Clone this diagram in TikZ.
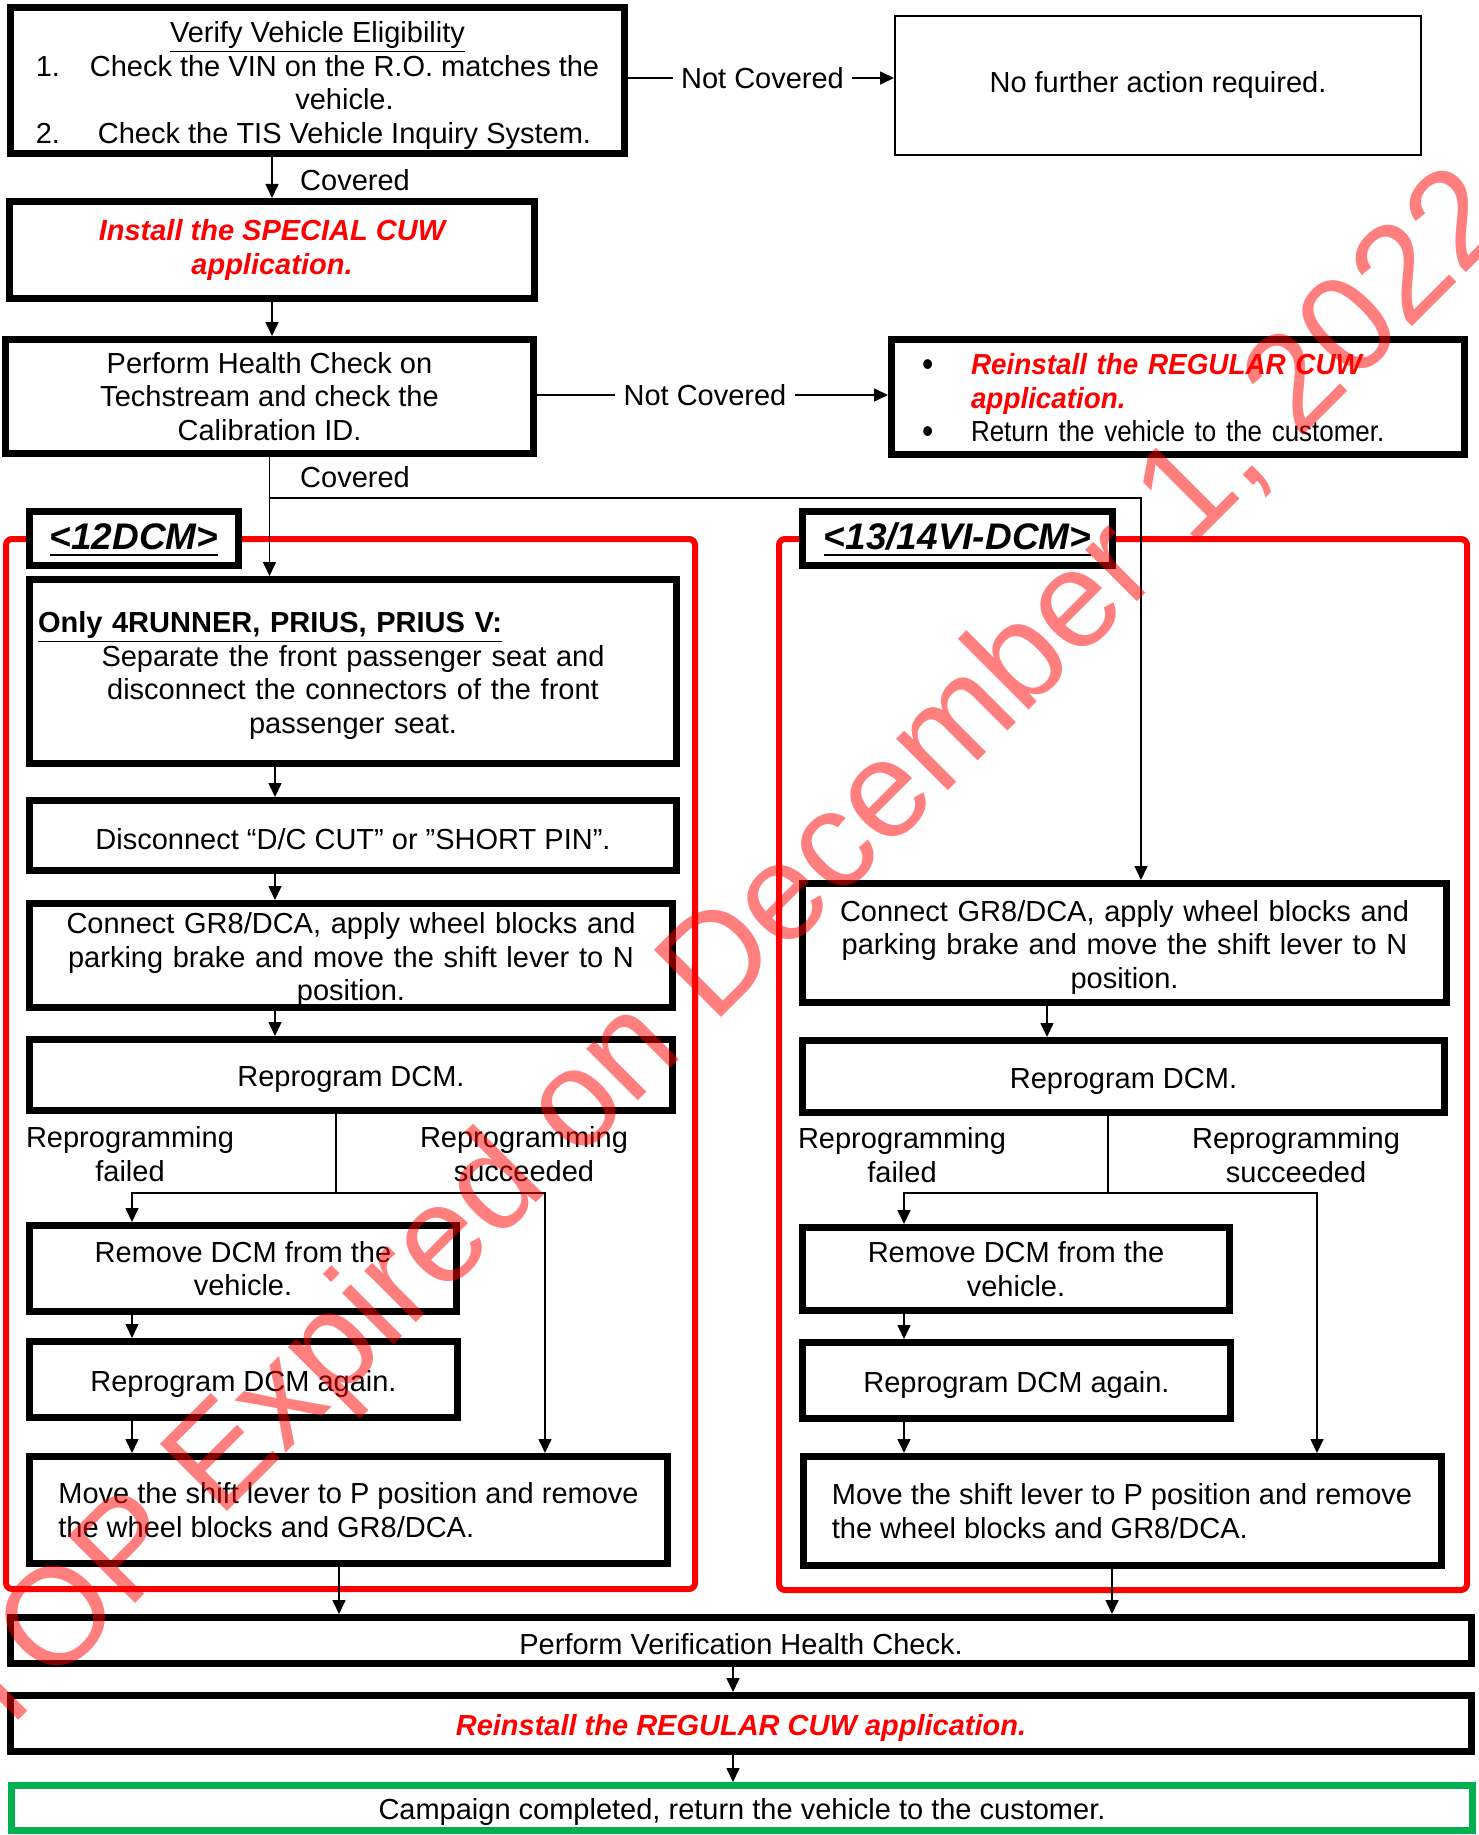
\documentclass[tikz,border=0pt]{standalone}
\usepackage{fontspec}
\setmainfont{Liberation Sans}
\newfontfamily\narrowfont{Liberation Sans}[FakeStretch=0.895]
\newfontfamily\halfnarrowfont{Liberation Sans}[FakeStretch=0.96]
\usepackage{tikz}
\usetikzlibrary{arrows.meta, calc}

\definecolor{donegreen}{RGB}{0,176,80}
\newcommand{\stepfont}{\fontsize{14.5}{16.75}\selectfont}
\newcommand{\tagfont}{\fontsize{18.5}{22}\selectfont\bfseries\itshape}
\newcommand{\cuwtext}[1]{\textcolor{red}{\bfseries\itshape #1}}
\newcommand{\tagul}[1]{\setbox0=\hbox{#1}\rlap{\rule[-3.3pt]{\wd0}{1.4pt}}\box0}
\newcommand{\bigdot}{\raisebox{-1pt}{\fontsize{18}{18}\selectfont\textbullet}}

\tikzset{
    stepbox/.style={draw, line width=3.5pt, fill=white, align=center, inner sep=0pt, font=\stepfont,
        execute at begin node={\rule{0pt}{14.5pt}}},
    thinbox/.style={draw, line width=1pt, fill=white, align=center, inner sep=0pt, font=\stepfont},
    tag/.style={stepbox, font=\tagfont},
    donebox/.style={stepbox, draw=donegreen},
    redframe/.style={draw=red, line width=3pt, rounded corners=3pt},
    lbl/.style={inner xsep=4pt, inner ysep=0pt, font=\stepfont},
    wire/.style={line width=0.8pt},
    arr/.style={line width=0.8pt, ->},
    stamp/.style={anchor=base, rotate=45, text=red, opacity=0.5, text opacity=0.5, inner sep=0pt, font=\fontsize{69}{80}\selectfont}
}

\begin{document}
\begin{tikzpicture}[x=0.5pt, y=-0.5pt, >={Triangle[length=7pt,width=6.5pt]}]
    \useasboundingbox (0,0) rectangle (1478,1835);

    % eligibility and first checks
    \node[stepbox, minimum width=307pt, minimum height=73pt] (verify) at (317.5,80.5) {\begin{tabular}{@{}p{27pt}@{}c@{}}
        \multicolumn{2}{@{}c@{}}{\rule{0pt}{17.7pt}\underline{Verify Vehicle Eligibility}}\\
        1. & Check the VIN on the R.O. matches the\\
           & vehicle.\\
        2. & Check the TIS Vehicle Inquiry System.
    \end{tabular}};
    \node[thinbox, minimum width=263pt, minimum height=69.5pt] (nofurther) at (1158,85.5) {No further action required.};
    \node[stepbox, minimum width=262.5pt, minimum height=48.5pt, font=\stepfont\bfseries\itshape, text=red] (special) at (272,250) {Install the SPECIAL CUW\\application.};
    \node[stepbox, minimum width=264pt, minimum height=57pt] (health) at (269.5,396.5) {Perform Health Check on\\Techstream and check the\\Calibration ID.};
    \node[stepbox, minimum width=286.5pt, minimum height=57.5pt, text width=256pt, inner xsep=15.25pt, align=left, font=\stepfont\narrowfont] (backreg) at (1178,397) {\begin{tabular}{@{}p{24.5pt}@{}l@{}}
        \rule{0pt}{16.2pt}\bigdot & {\halfnarrowfont\cuwtext{Reinstall the REGULAR CUW}}\\
                    & {\halfnarrowfont\cuwtext{application.}}\\
        \bigdot & Return the vehicle to the customer.
    \end{tabular}};

    \node[lbl] (nc1) at (762.5,78) {Not Covered};
    \node[lbl] (nc2) at (705,395) {Not Covered};
    \node[lbl] (cov1) at (355,180) {Covered};
    \node[lbl] (cov2) at (355,477) {Covered};

    \draw[arr] (verify.south -| special.north) -- (special.north);
    \draw[wire] (verify.east |- nc1) -- (nc1.west);
    \draw[arr] (nc1.east) -- (nc1.east -| nofurther.west);
    \draw[arr] (special.south) -- (special.south |- health.north);
    \draw[wire] (health.east |- nc2) -- (nc2.west);
    \draw[arr] (nc2.east) -- (nc2.east -| backreg.west);

    % the two DCM frames
    \draw[redframe] (6,539) rectangle (695,1589);
    \draw[redframe] (779,539) rectangle (1467,1590);
    \node[tag, minimum width=104.5pt, minimum height=27pt] (tag12) at (134,538.5) {\tagul{<12DCM>}};
    \node[tag, minimum width=155pt, minimum height=27pt] (tag13) at (957.5,538.5) {\tagul{<13/14VI-DCM>}};

    % <12DCM>
    \node[stepbox, minimum width=323.5pt, minimum height=92pt, text width=315pt, inner xsep=4.25pt] (only) at (353,671.5) {\makebox[\linewidth][l]{\bfseries\underline{Only 4RUNNER, PRIUS, PRIUS V:}}\\
        Separate the front passenger seat and\\disconnect the connectors of the front\\passenger seat.};
    \node[stepbox, minimum width=323.5pt, minimum height=35pt] (discL) at (353,835.5) {Disconnect “D/C CUT” or ”SHORT PIN”.};
    \node[stepbox, minimum width=321.5pt, minimum height=52pt, text width=320pt] (connL) at (351,955.5) {Connect GR8/DCA, apply wheel blocks and\\parking brake and move the shift lever to N\\position.};
    \node[stepbox, minimum width=321.5pt, minimum height=35.5pt] (reproL) at (351,1075) {Reprogram DCM.};
    \node[stepbox, minimum width=213.5pt, minimum height=43pt] (remL) at (243,1268.5) {Remove DCM from the\\vehicle.};
    \node[stepbox, minimum width=214pt, minimum height=38pt] (againL) at (243.5,1379.5) {Reprogram DCM again.};
    \node[stepbox, minimum width=319pt, minimum height=53.5pt, align=left] (moveL) at (348.5,1510) {Move the shift lever to P position and remove\\the wheel blocks and GR8/DCA.};
    \node[lbl, align=center] (txtfailL) at (130,1154) {Reprogramming\\failed};
    \node[lbl, align=center] (txtokL) at (524,1154) {Reprogramming\\succeeded};

    \coordinate (fork) at (269.5,498);
    \coordinate (cv) at (1141,498);
    \draw[arr] (health.south) -- (health.south |- only.north);
    \draw[arr] (275,0 |- only.south) -- (275,0 |- discL.north);
    \draw[arr] (275,0 |- discL.south) -- (275,0 |- connL.north);
    \draw[arr] (275,0 |- connL.south) -- (275,0 |- reproL.north);

    \coordinate (forkL) at (336,1193);
    \coordinate (dropL) at (132,1193);
    \coordinate (passL) at (545,1193);
    \draw[wire] (reproL.south -| forkL) -- (forkL);
    \draw[arr] (forkL) -- (dropL) -- (dropL |- remL.north);
    \draw[arr] (forkL) -- (passL) -- (passL |- moveL.north);
    \draw[arr] (remL.south -| dropL) -- (dropL |- againL.north);
    \draw[arr] (againL.south -| dropL) -- (dropL |- moveL.north);

    % <13/14VI-DCM>
    \node[stepbox, minimum width=322pt, minimum height=59.5pt, text width=320pt] (connR) at (1124.5,943) {Connect GR8/DCA, apply wheel blocks and\\parking brake and move the shift lever to N\\position.};
    \node[stepbox, minimum width=321pt, minimum height=36pt] (reproR) at (1123.5,1076.5) {Reprogram DCM.};
    \node[stepbox, minimum width=213.5pt, minimum height=41.5pt] (remR) at (1016,1269) {Remove DCM from the\\vehicle.};
    \node[stepbox, minimum width=214pt, minimum height=38pt] (againR) at (1016.5,1380.5) {Reprogram DCM again.};
    \node[stepbox, minimum width=319pt, minimum height=54.5pt, align=left] (moveR) at (1122,1511) {Move the shift lever to P position and remove\\the wheel blocks and GR8/DCA.};
    \node[lbl, align=center] (txtfailR) at (902,1155) {Reprogramming\\failed};
    \node[lbl, align=center] (txtokR) at (1296,1155) {Reprogramming\\succeeded};

    \draw[arr] (fork) -- (cv) -- (cv |- connR.north);
    \draw[arr] (1047,0 |- connR.south) -- (1047,0 |- reproR.north);

    \coordinate (forkR) at (1108,1193);
    \coordinate (dropR) at (904,1193);
    \coordinate (passR) at (1317,1193);
    \draw[wire] (reproR.south -| forkR) -- (forkR);
    \draw[arr] (forkR) -- (dropR) -- (dropR |- remR.north);
    \draw[arr] (forkR) -- (passR) -- (passR |- moveR.north);
    \draw[arr] (remR.south -| dropR) -- (dropR |- againR.north);
    \draw[arr] (againR.south -| dropR) -- (dropR |- moveR.north);

    % common end
    \node[stepbox, minimum width=730.5pt, minimum height=23pt] (verif) at (741,1640.5) {Perform Verification Health Check.};
    \node[stepbox, minimum width=730.5pt, minimum height=28pt, font=\stepfont\bfseries\itshape, text=red] (regfinal) at (741,1723.5) {Reinstall the REGULAR CUW application.};
    \node[donebox, minimum width=730.5pt, minimum height=22.5pt] (done) at (742,1808) {Campaign completed, return the vehicle to the customer.};

    \draw[arr] (339,0 |- moveL.south) -- (339,0 |- verif.north);
    \draw[arr] (1112,0 |- moveR.south) -- (1112,0 |- verif.north);
    \draw[arr] (733,0 |- verif.south) -- (733,0 |- regfinal.north);
    \draw[arr] (733,0 |- regfinal.south) -- (733,0 |- done.north);

    % watermark
    \begin{scope}
        \clip (0,0) rectangle (1478,1835);
        \node[stamp] (expired) at (755,984) {TOP Expired on December 1, 2022};
    \end{scope}
\end{tikzpicture}
\end{document}
